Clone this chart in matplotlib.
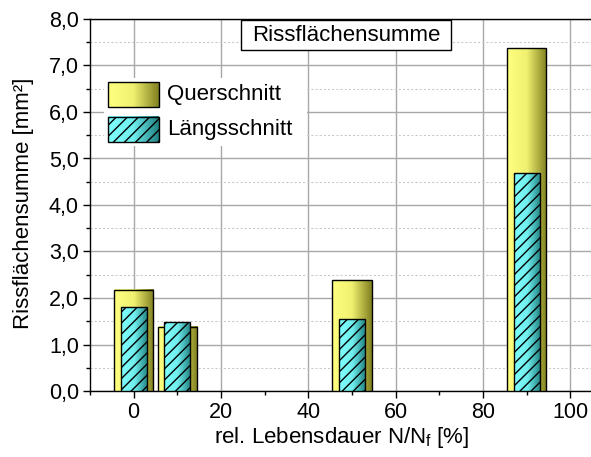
import numpy as np
import matplotlib.pyplot as plt
from matplotlib.patches import Rectangle
from matplotlib.colors import LinearSegmentedColormap
from matplotlib.ticker import MultipleLocator, FuncFormatter

plt.rcParams['font.family'] = ['Liberation Sans', 'DejaVu Sans']
plt.rcParams['hatch.linewidth'] = 1.0

# relative Lebensdauer in % und Rissflächensumme in mm²
lebensdauer = [0, 10, 50, 90]
quer = [2.18, 1.38, 2.38, 7.37]
laengs = [1.80, 1.48, 1.54, 4.68]

breite_quer = 9.0
breite_laengs = 6.0

gelb = LinearSegmentedColormap.from_list('gelb', ['#ffff80', '#f0f070', '#808020'])
cyan = LinearSegmentedColormap.from_list('cyan', ['#80ffff', '#70eeee', '#208080'])
grad = np.linspace(0, 1, 128).reshape(1, -1)

W, H = 591, 457
fig = plt.figure(figsize=(W / 100, H / 100), dpi=100)
# axes frame in pixels: left 90, bottom 391, 4.367 px per % and 46.5 px per mm²
x0, y0, pxx, pxy = 90, 391, 4.367, 46.5
ax = fig.add_axes([x0 / W, (H - y0) / H, 120 * pxx / W, 8 * pxy / H])

def ax_x(px):
    return (px - x0) / (120 * pxx)

def ax_y(py):
    return (y0 - py) / (8 * pxy)

def balken(x, h, w, cmap, hatch=None, z=3):
    ax.imshow(grad, extent=(x - w / 2, x + w / 2, 0, h), aspect='auto',
              cmap=cmap, interpolation='bilinear', zorder=z)
    ax.add_patch(Rectangle((x - w / 2, 0), w, h, fill=False, edgecolor='black',
                           lw=1.0, hatch=hatch, zorder=z + 0.1))

for x, h in zip(lebensdauer, quer):
    balken(x, h, breite_quer, gelb, z=3)
for x, h in zip(lebensdauer, laengs):
    balken(x, h, breite_laengs, cyan, hatch='///', z=4)

ax.set_xlim(-10, 110)
ax.set_ylim(0, 8)
ax.set_autoscale_on(False)

ax.xaxis.set_major_locator(MultipleLocator(20))
ax.xaxis.set_minor_locator(MultipleLocator(10))
ax.yaxis.set_major_locator(MultipleLocator(1))
ax.yaxis.set_minor_locator(MultipleLocator(0.5))
ax.yaxis.set_major_formatter(FuncFormatter(lambda v, p: f'{v:.1f}'.replace('.', ',')))

ax.grid(True, which='major', color='#a8a8a8', lw=1.0, zorder=0)
ax.grid(True, which='minor', axis='y', color='#c8c8c8', lw=0.75, ls=(0, (2, 2)), zorder=0)
ax.set_axisbelow(True)

ax.tick_params(which='major', direction='out', length=5, width=1, labelsize=15.5, pad=3)
ax.tick_params(which='minor', direction='out', length=3, width=1)
ax.spines['right'].set_visible(False)
for s in ['left', 'bottom', 'top']:
    ax.spines[s].set_linewidth(1.0)

ax.set_xlabel('rel. Lebensdauer N/N$_\\mathregular{f}$ [%]', fontsize=16)
ax.xaxis.set_label_coords(ax_x(342), ax_y(438), transform=ax.transAxes)
ax.xaxis.label.set_va('center')
ax.set_ylabel('Rissflächensumme [mm²]', fontsize=16)
ax.yaxis.set_label_coords(ax_x(23), ax_y(203), transform=ax.transAxes)
ax.yaxis.label.set_va('center')

# Titelkasten
tx0, ty0, tx1, ty1 = 241, 20, 451, 50
ax.add_patch(Rectangle((ax_x(tx0), ax_y(ty1)), ax_x(tx1) - ax_x(tx0), ax_y(ty0) - ax_y(ty1),
                       transform=ax.transAxes, facecolor='white', edgecolor='black',
                       lw=1.0, zorder=10, clip_on=False))
ax.text(ax_x((tx0 + tx1) / 2), ax_y(36), 'Rissflächensumme', transform=ax.transAxes,
        ha='center', va='center', fontsize=16, zorder=11)

# Legende
ax.add_patch(Rectangle((ax_x(104), ax_y(146)), ax_x(307) - ax_x(104), ax_y(78) - ax_y(146),
                       transform=ax.transAxes, facecolor='white', edgecolor='none', zorder=10))
eintraege = [('Querschnitt', gelb, None, 82), ('Längsschnitt', cyan, '///', 117)]
for name, cmap, hatch, top in eintraege:
    l, r, t, b = ax_x(108), ax_x(159), ax_y(top), ax_y(top + 25)
    ax.imshow(grad, extent=(l, r, b, t), transform=ax.transAxes, aspect='auto',
              cmap=cmap, interpolation='bilinear', zorder=11)
    ax.add_patch(Rectangle((l, b), r - l, t - b, transform=ax.transAxes, fill=False,
                           edgecolor='black', lw=1.0, hatch=hatch, zorder=12))
    ax.text(ax_x(167), ax_y(top + 12.5), name, transform=ax.transAxes,
            ha='left', va='center', fontsize=16, zorder=12)

ax.set_xlim(-10, 110)
ax.set_ylim(0, 8)

fig.savefig('out.png', dpi=100)
